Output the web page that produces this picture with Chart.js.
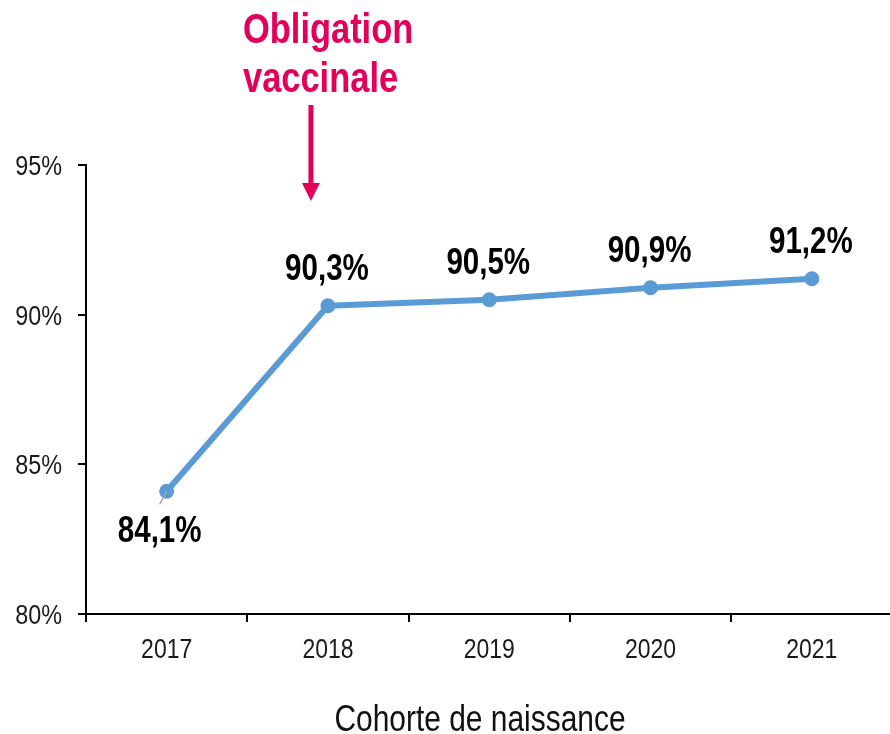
<!DOCTYPE html>
<html>
<head>
<meta charset="utf-8">
<script src="https://cdn.jsdelivr.net/npm/chart.js@4/dist/chart.umd.min.js"></script>
<style>
  html, body { margin: 0; padding: 0; background: #fff; overflow: hidden; }
  #wrap { width: 900px; height: 734px; position: relative; }
</style>
</head>
<body>
<div id="wrap"><canvas id="c" width="900" height="734"></canvas></div>
<script>
const categories = ['2017', '2018', '2019', '2020', '2021'];
const coverage = [84.1, 90.3, 90.5, 90.9, 91.2];
const valueLabels = ['84,1%', '90,3%', '90,5%', '90,9%', '91,2%'];
const yTicks = [80, 85, 90, 95];
const annotationLines = ['Obligation', 'vaccinale'];
const xAxisTitle = 'Cohorte de naissance';

const FONT = '"Liberation Sans", Arial, sans-serif';
const NARROW_SCALE = 0.82;
const PINK = '#e2005a';
const BLUE = '#5b9bd5';

// draw text with a horizontally condensed Arial-metric face (Arial Narrow look)
function narrowText(ctx, text, x, y, font, color, align) {
  ctx.save();
  ctx.font = font;
  ctx.fillStyle = color;
  ctx.textBaseline = 'alphabetic';
  ctx.textAlign = align;
  ctx.translate(x, y);
  ctx.scale(NARROW_SCALE, 1);
  ctx.fillText(text, 0, 0);
  ctx.restore();
}

const overlay = {
  id: 'overlay',
  afterDatasetsDraw(chart) {
    const ctx = chart.ctx;
    const meta = chart.getDatasetMeta(0);
    ctx.save();
    const p0 = meta.data[0];
    ctx.strokeStyle = '#a6a6a6';
    ctx.lineWidth = 1.5;
    ctx.beginPath();
    ctx.moveTo(p0.x, p0.y);
    ctx.lineTo(p0.x - 7, p0.y + 13);
    ctx.stroke();
    ctx.restore();
    meta.data.forEach((pt, i) => {
      if (i === 0) {
        narrowText(ctx, valueLabels[i], pt.x - 7, pt.y + 38 + 12.5, 'bold 36px ' + FONT, '#000', 'center');
      } else {
        narrowText(ctx, valueLabels[i], pt.x - 1, pt.y - 38 + 12.5, 'bold 36px ' + FONT, '#000', 'center');
      }
    });
  },
  afterDraw(chart) {
    const ctx = chart.ctx;
    const xs = chart.scales.x;
    const ys = chart.scales.y;
    const p1 = chart.getDatasetMeta(0).data[1];
    // tick labels (positions from the library's scales)
    xs.ticks.forEach((t, i) => {
      narrowText(ctx, categories[i], xs.getPixelForTick(i), 658, '28px ' + FONT, '#1a1a1a', 'center');
    });
    ys.ticks.forEach((t, i) => {
      narrowText(ctx, t.value + '%', 62, ys.getPixelForValue(t.value) + 10, '28.5px ' + FONT, '#1a1a1a', 'right');
    });
    // annotation
    narrowText(ctx, annotationLines[0], 243, 43, 'bold 42px ' + FONT, PINK, 'left');
    narrowText(ctx, annotationLines[1], 243, 92, 'bold 42px ' + FONT, PINK, 'left');
    // arrow
    ctx.save();
    const ax = p1.x - 17;
    ctx.strokeStyle = PINK;
    ctx.fillStyle = PINK;
    ctx.lineWidth = 5;
    ctx.beginPath();
    ctx.moveTo(ax, 105);
    ctx.lineTo(ax, 184);
    ctx.stroke();
    ctx.beginPath();
    ctx.moveTo(ax - 9, 183);
    ctx.lineTo(ax + 9, 183);
    ctx.lineTo(ax, 201);
    ctx.closePath();
    ctx.fill();
    ctx.restore();
    // axis title
    narrowText(ctx, xAxisTitle, 480, 731, '36.5px ' + FONT, '#111', 'center');
  }
};

new Chart(document.getElementById('c'), {
  type: 'line',
  data: {
    labels: categories,
    datasets: [{
      data: coverage,
      borderColor: BLUE,
      backgroundColor: BLUE,
      borderWidth: 6,
      pointRadius: 7.5,
      pointHoverRadius: 7.5,
      pointBackgroundColor: BLUE,
      pointBorderWidth: 0,
      tension: 0,
      fill: false
    }]
  },
  options: {
    responsive: false,
    animation: false,
    events: [],
    layout: { padding: { top: 165, right: 4, left: 0, bottom: 0 } },
    plugins: { legend: { display: false }, tooltip: { enabled: false } },
    scales: {
      x: {
        type: 'category',
        offset: true,
        grid: { display: true, offset: true, drawOnChartArea: false, drawTicks: true, tickLength: 8, color: '#000', lineWidth: 2 },
        border: { display: true, color: '#000', width: 2 },
        ticks: { display: false },
        afterFit(s) { s.height = 120; }
      },
      y: {
        min: 80,
        max: 95,
        afterBuildTicks(s) { s.ticks = yTicks.map(v => ({ value: v })); },
        grid: { display: true, drawOnChartArea: false, drawTicks: true, tickLength: 8, color: '#000', lineWidth: 2 },
        border: { display: true, color: '#000', width: 2 },
        ticks: { display: false },
        afterFit(s) { s.width = 86; }
      }
    }
  },
  plugins: [overlay]
});
</script>
</body>
</html>
